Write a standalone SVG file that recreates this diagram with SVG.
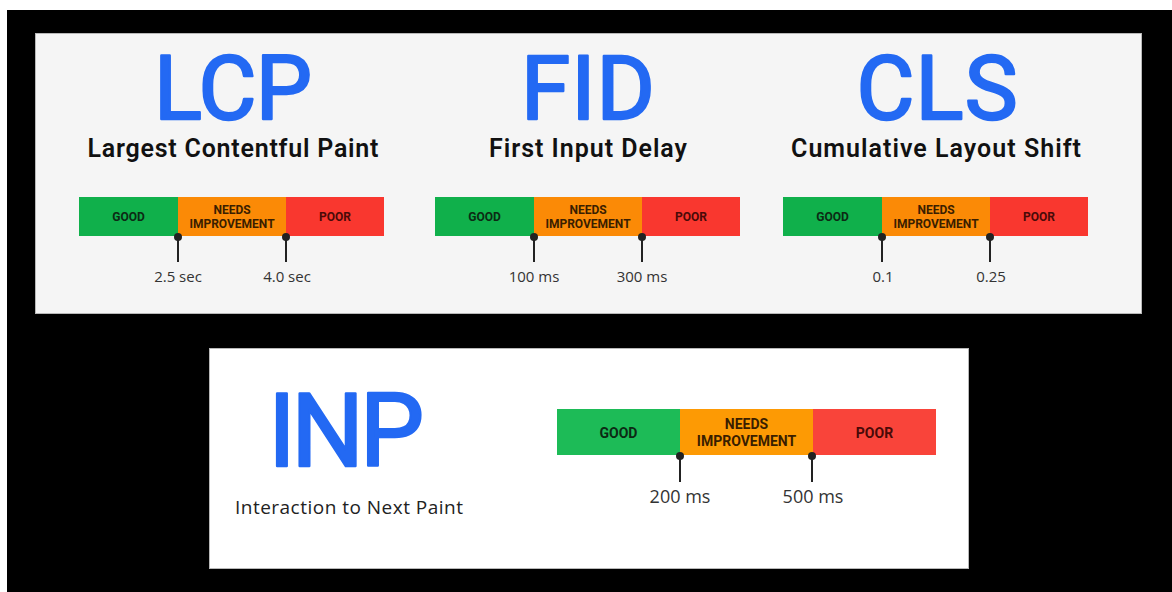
<svg xmlns="http://www.w3.org/2000/svg" width="1172" height="592" viewBox="0 0 1172 592">
  <style>
    .panel { fill: #f5f5f5; stroke: #b8b8b8; stroke-width: 1; }
    .panel2 { fill: #ffffff; stroke: #b8b8b8; stroke-width: 1; }
    .big { font-family: Roboto, "Liberation Sans", sans-serif; font-weight: 400; fill: #2369f3; stroke: #2369f3; stroke-width: 2.4; stroke-linejoin: round; text-anchor: middle; }
    .sub { font-family: Roboto, "Liberation Sans", sans-serif; font-weight: 600; fill: #111; font-size: 25px; text-anchor: middle; }
    .good { fill: #10b04b; }
    .mid { fill: #fb8a06; }
    .poor { fill: #f9372f; }
    .seg { font-family: Roboto, "Liberation Sans", sans-serif; font-weight: 700; text-anchor: middle; }
    .tg { fill: #0c2a14; }
    .tm { fill: #3a1e00; }
    .tp { fill: #4a0a08; }
    .tick { stroke: #222; stroke-width: 2; }
    .dot { fill: #222; }
    .val { font-family: "Open Sans", Roboto, "Liberation Sans", sans-serif; fill: #333; text-anchor: middle; }
  </style>

  <!-- backdrop -->
  <rect x="0" y="0" width="1172" height="592" fill="#ffffff"/>
  <rect x="7" y="10" width="1165" height="582" fill="#000000"/>

  <!-- upper card -->
  <rect class="panel" x="35.5" y="33.5" width="1106" height="280"/>
  <!-- lower card -->
  <rect class="panel2" x="209.5" y="348.5" width="759" height="220"/>

  <!-- LCP -->
  <g id="lcp">
    <text class="big" x="233" y="119" font-size="89" textLength="158">LCP</text>
    <text class="sub" x="233" y="157" textLength="291">Largest Contentful Paint</text>
    <rect class="good" x="79" y="197" width="99" height="39"/>
    <rect class="mid" x="178" y="197" width="108" height="39"/>
    <rect class="poor" x="286" y="197" width="98" height="39"/>
    <text class="seg tg" x="128.5" y="221" font-size="12">GOOD</text>
    <text class="seg tm" x="232" y="214" font-size="12">NEEDS</text>
    <text class="seg tm" x="232" y="228" font-size="12">IMPROVEMENT</text>
    <text class="seg tp" x="335" y="221" font-size="12">POOR</text>
  </g>

  <!-- FID -->
  <g id="fid">
    <text class="big" x="588" y="119" font-size="89" textLength="134">FID</text>
    <text class="sub" x="588" y="157" textLength="198">First Input Delay</text>
    <rect class="good" x="435" y="197" width="99" height="39"/>
    <rect class="mid" x="534" y="197" width="108" height="39"/>
    <rect class="poor" x="642" y="197" width="98" height="39"/>
    <text class="seg tg" x="484.5" y="221" font-size="12">GOOD</text>
    <text class="seg tm" x="588" y="214" font-size="12">NEEDS</text>
    <text class="seg tm" x="588" y="228" font-size="12">IMPROVEMENT</text>
    <text class="seg tp" x="691" y="221" font-size="12">POOR</text>
  </g>

  <!-- CLS -->
  <g id="cls">
    <text class="big" x="937" y="119" font-size="89" textLength="161">CLS</text>
    <text class="sub" x="936" y="157" textLength="290">Cumulative Layout Shift</text>
    <rect class="good" x="783" y="197" width="99" height="39"/>
    <rect class="mid" x="882" y="197" width="108" height="39"/>
    <rect class="poor" x="990" y="197" width="98" height="39"/>
    <text class="seg tg" x="832.5" y="221" font-size="12">GOOD</text>
    <text class="seg tm" x="936" y="214" font-size="12">NEEDS</text>
    <text class="seg tm" x="936" y="228" font-size="12">IMPROVEMENT</text>
    <text class="seg tp" x="1039" y="221" font-size="12">POOR</text>
  </g>

  <!-- INP -->
  <g id="inp">
    <text class="big" x="346" y="466" font-size="102" textLength="156">INP</text>
    <text x="349" y="514" font-family="'Open Sans', Roboto, 'Liberation Sans', sans-serif" font-size="19" fill="#222" text-anchor="middle" textLength="228">Interaction to Next Paint</text>
    <rect class="good" x="557" y="409" width="123" height="46" style="fill:#1dbb57"/>
    <rect class="mid" x="680" y="409" width="133" height="46" style="fill:#fd9a04"/>
    <rect class="poor" x="813" y="409" width="123" height="46" style="fill:#f9443a"/>
    <text class="seg tg" x="618.5" y="438" font-size="14">GOOD</text>
    <text class="seg tm" x="746.5" y="429" font-size="14">NEEDS</text>
    <text class="seg tm" x="746.5" y="446" font-size="14">IMPROVEMENT</text>
    <text class="seg tp" x="874.5" y="438" font-size="14">POOR</text>
  </g>

  <!-- threshold ticks -->
  <g id="connectors">
    <line class="tick" x1="178" y1="237" x2="178" y2="262"/>
    <circle class="dot" cx="178" cy="237" r="4"/>
    <line class="tick" x1="286" y1="237" x2="286" y2="262"/>
    <circle class="dot" cx="286" cy="237" r="4"/>

    <line class="tick" x1="534" y1="237" x2="534" y2="262"/>
    <circle class="dot" cx="534" cy="237" r="4"/>
    <line class="tick" x1="642" y1="237" x2="642" y2="262"/>
    <circle class="dot" cx="642" cy="237" r="4"/>

    <line class="tick" x1="882" y1="237" x2="882" y2="262"/>
    <circle class="dot" cx="882" cy="237" r="4"/>
    <line class="tick" x1="990" y1="237" x2="990" y2="262"/>
    <circle class="dot" cx="990" cy="237" r="4"/>

    <line class="tick" x1="680" y1="456" x2="680" y2="482"/>
    <circle class="dot" cx="680" cy="456" r="4"/>
    <line class="tick" x1="812" y1="456" x2="812" y2="482"/>
    <circle class="dot" cx="812" cy="456" r="4"/>
  </g>

  <!-- threshold values -->
  <g id="values">
    <text class="val" x="178" y="282" font-size="15">2.5 sec</text>
    <text class="val" x="287" y="282" font-size="15">4.0 sec</text>
    <text class="val" x="534" y="282" font-size="15">100 ms</text>
    <text class="val" x="642" y="282" font-size="15">300 ms</text>
    <text class="val" x="883" y="282" font-size="15">0.1</text>
    <text class="val" x="991" y="282" font-size="15">0.25</text>
    <text class="val" x="680" y="503" font-size="18">200 ms</text>
    <text class="val" x="813" y="503" font-size="18">500 ms</text>
  </g>
</svg>
